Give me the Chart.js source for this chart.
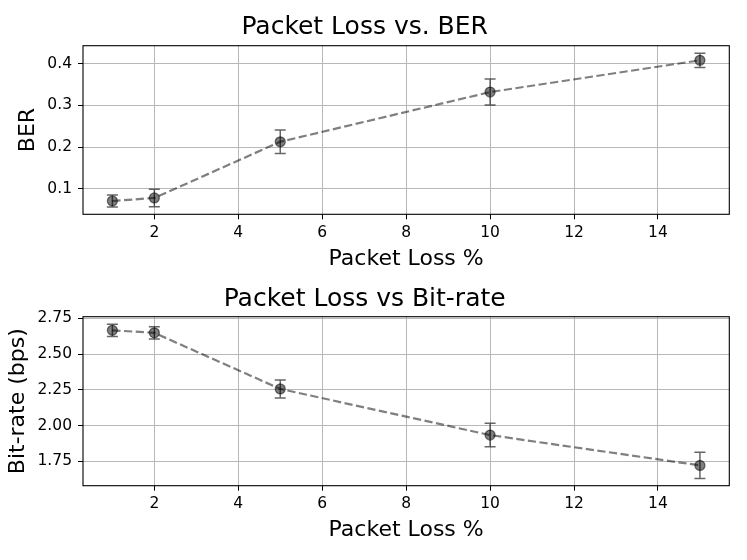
<!DOCTYPE html>
<html lang="en">
<head>
    <meta charset="UTF-8">
    <title>Packet Loss</title>
    <script src="https://cdn.jsdelivr.net/npm/chart.js"></script>
    <style>
        body { margin: 0; background: #fff; }
        .box { position: absolute; left: 0; width: 747px; height: 280px; }
    </style>
</head>
<body>
<div class="box" style="top:0"><canvas id="berChart" width="747" height="280"></canvas></div>
<div class="box" style="top:280px"><canvas id="rateChart" width="747" height="280"></canvas></div>

<script>
    // valori
    const lossPct = [1, 2, 5, 10, 15];
    const berMean = [0.0713, 0.0785, 0.213, 0.332, 0.408];
    const berErr = [0.0144, 0.021, 0.028, 0.031, 0.017];
    const rateMean = [2.667, 2.649, 2.257, 1.934, 1.722];
    const rateErr = [0.043, 0.0435, 0.063, 0.082, 0.092];

    const xTicks = [2, 4, 6, 8, 10, 12, 14];
    const berTicks = [0.1, 0.2, 0.3, 0.4];
    const rateTicks = [1.75, 2.0, 2.25, 2.5, 2.75];

    const FONT = "'DejaVu Sans', sans-serif";

    // barre d'errore + cornice degli assi
    const errorBars = {
        id: 'errorBars',
        afterDatasetsDraw(chart, args, opts) {
            const {ctx, chartArea, scales: {x, y}} = chart;
            const ds = chart.data.datasets[0];
            ctx.save();
            ctx.strokeStyle = 'rgba(0,0,0,0.6)';
            ctx.lineWidth = 1.5;
            ds.data.forEach((p, i) => {
                const px = x.getPixelForValue(p.x);
                const top = y.getPixelForValue(p.y + opts.errors[i]);
                const bot = y.getPixelForValue(p.y - opts.errors[i]);
                ctx.beginPath();
                ctx.moveTo(px, top); ctx.lineTo(px, bot);
                ctx.moveTo(px - 5.5, top); ctx.lineTo(px + 5.5, top);
                ctx.moveTo(px - 5.5, bot); ctx.lineTo(px + 5.5, bot);
                ctx.stroke();
            });
            ctx.strokeStyle = '#000';
            ctx.lineWidth = 1.1;
            ctx.strokeRect(chartArea.left, chartArea.top, chartArea.right - chartArea.left, chartArea.bottom - chartArea.top);
            ctx.restore();
        }
    };

    function makeChart(id, cfg) {
        const ctx = document.getElementById(id).getContext('2d');
        return new Chart(ctx, {
            type: 'line',
            data: {
                datasets: [{
                    data: lossPct.map((v, i) => ({x: v, y: cfg.mean[i]})),
                    borderColor: 'rgba(0,0,0,0.5)',
                    borderWidth: 2.2,
                    borderDash: [8.2, 3.5],
                    tension: 0,
                    pointRadius: 5,
                    pointBackgroundColor: 'rgba(0,0,0,0.5)',
                    pointBorderColor: 'rgba(0,0,0,0.5)',
                    pointBorderWidth: 1.3
                }]
            },
            plugins: [errorBars],
            options: {
                responsive: false,
                animation: false,
                layout: { padding: { left: 0, right: 17.7, top: 0, bottom: cfg.padBottom } },
                plugins: {
                    legend: { display: false },
                    tooltip: { enabled: false },
                    title: {
                        display: true,
                        text: cfg.title,
                        color: '#000',
                        font: { family: FONT, size: 25, weight: 'normal', lineHeight: 1 },
                        padding: cfg.titlePad
                    },
                    errorBars: { errors: cfg.err }
                },
                scales: {
                    x: {
                        type: 'linear',
                        min: 0.3, max: 15.7,
                        afterBuildTicks: s => { s.ticks = xTicks.map(v => ({value: v})); },
                        afterFit: s => { s.height = 55.7; },
                        ticks: { color: '#000', font: { family: FONT, size: 15.5 }, padding: 4, maxRotation: 0 },
                        grid: { color: '#b8b8b8', lineWidth: 1, tickColor: '#000', tickLength: 5 },
                        border: { display: false },
                        title: { display: true, text: 'Packet Loss %', color: '#000',
                                 font: { family: FONT, size: 22, lineHeight: 1 }, padding: 0 }
                    },
                    y: {
                        min: cfg.min, max: cfg.max,
                        afterBuildTicks: s => { s.ticks = cfg.ticks.map(v => ({value: v})); },
                        afterFit: s => { s.width = 83; },
                        ticks: { color: '#000', font: { family: FONT, size: 15.5 }, padding: 6,
                                 callback: v => v.toFixed(cfg.digits) },
                        grid: { color: '#b8b8b8', lineWidth: 1, tickColor: '#000', tickLength: 5 },
                        border: { display: false },
                        title: { display: true, text: cfg.yLabel, color: '#000',
                                 font: { family: FONT, size: 22, lineHeight: 1 },
                                 padding: { top: cfg.yTitlePad, bottom: 0 } }
                    }
                }
            }
        });
    }

    makeChart('berChart', {
        title: 'Packet Loss vs. BER', yLabel: 'BER',
        mean: berMean, err: berErr, ticks: berTicks, digits: 1,
        min: 0.0394, max: 0.443,
        titlePad: { top: 14.5, bottom: 6.2 }, padBottom: 10, yTitlePad: 17.6
    });

    makeChart('rateChart', {
        title: 'Packet Loss vs Bit-rate', yLabel: 'Bit-rate (bps)',
        mean: rateMean, err: rateErr, ticks: rateTicks, digits: 2,
        min: 1.580, max: 2.762,
        titlePad: { top: 7.1, bottom: 4.6 }, padBottom: 18.6, yTitlePad: 7.4
    });
</script>
</body>
</html>
